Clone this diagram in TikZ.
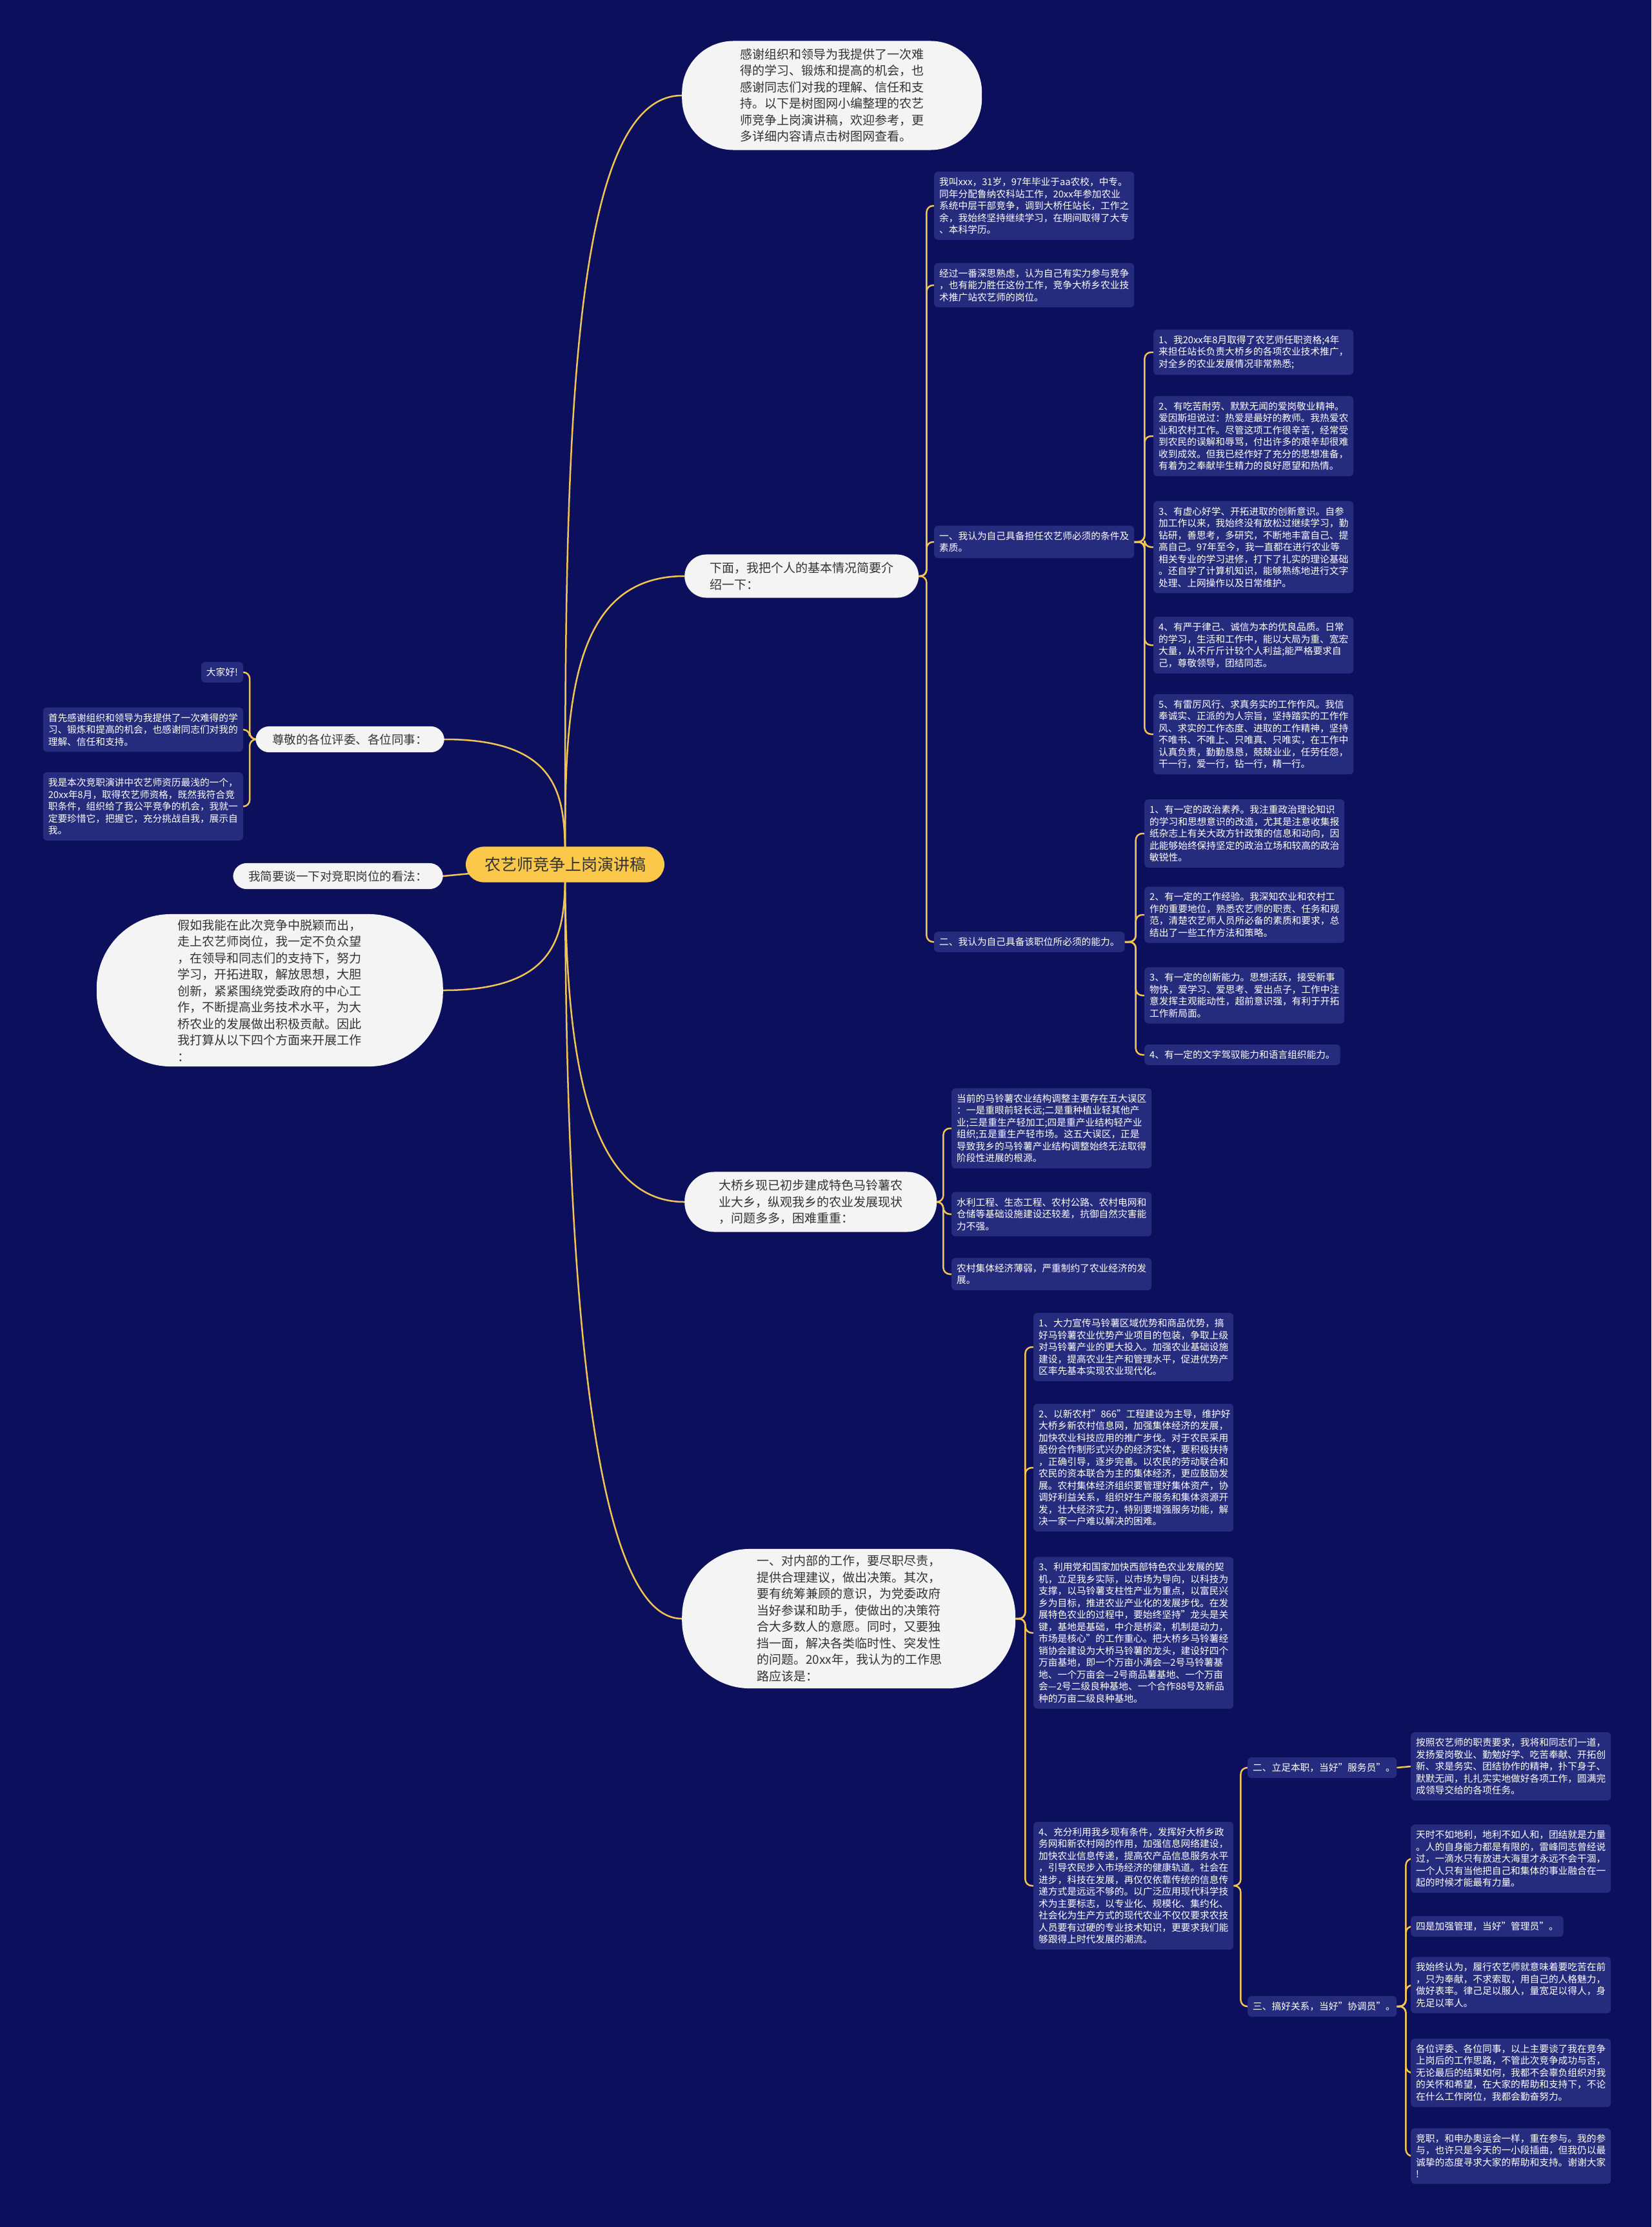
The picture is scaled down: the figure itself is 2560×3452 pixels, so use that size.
\documentclass[tikz,border=0pt]{standalone}
\usepackage{fontspec}
\setmainfont{Noto Sans CJK SC}
\usetikzlibrary{backgrounds}
\definecolor{bgc}{HTML}{0B0F5C}
\definecolor{boxc}{HTML}{262C7D}
\definecolor{pillc}{HTML}{F4F4F4}
\definecolor{pilltext}{HTML}{333333}
\definecolor{rootc}{HTML}{FCC84A}
\definecolor{linec}{HTML}{F2C553}
\newcommand\sbfont{\fontsize{14.7}{18.5}\selectfont}
\newcommand\plfont{\fontsize{19}{25.5}\selectfont}
\tikzset{
  box/.style={fill=boxc, rounded corners=6pt, text=white, align=left, text width=294pt, inner xsep=8pt, inner ysep=9pt, font=\sbfont},
  sbox/.style={fill=boxc, rounded corners=6pt, text=white, inner xsep=8pt, inner ysep=9pt, font=\sbfont},
  pill/.style={fill=pillc, text=pilltext, align=left, text width=285pt, font=\plfont, inner ysep=12pt},
  spill/.style={fill=pillc, text=pilltext, font=\fontsize{18.5}{22}\selectfont, inner ysep=11.5pt, rounded corners=21pt},
  rootbox/.style={fill=rootc, text=pilltext, rounded corners=28pt, font=\fontsize{25}{30}\selectfont, inner xsep=29pt, inner ysep=16pt},
  conn/.style={draw=linec, line width=2.5pt, rounded corners=10pt},
  rconn/.style={draw=linec, line width=2.5pt},
}
\begin{document}
\begin{tikzpicture}[x=1pt,y=-1pt]
\useasboundingbox (0,0) rectangle (2560,3452);

% root
\node[rootbox] (r) at (876,1340) {农艺师竞争上岗演讲稿};

% first level, right
\node[pill, inner xsep=90pt, rounded corners=80pt, anchor=west] (t1) at (1057,148) {感谢组织和领导为我提供了一次难\\得的学习、锻炼和提高的机会，也\\感谢同志们对我的理解、信任和支\\持。以下是树图网小编整理的农艺\\师竞争上岗演讲稿，欢迎参考，更\\多详细内容请点击树图网查看。};
\node[pill, inner xsep=39pt, rounded corners=34pt, anchor=west] (t2) at (1061,893) {下面，我把个人的基本情况简要介\\绍一下：};
\node[pill, inner xsep=53pt, rounded corners=46pt, anchor=west] (t3) at (1061,1863) {大桥乡现已初步建成特色马铃薯农\\业大乡，纵观我乡的农业发展现状\\，问题多多，困难重重：};
\node[pill, inner xsep=116pt, inner ysep=10pt, rounded corners=105pt, anchor=west] (t4) at (1057,2509) {一、对内部的工作，要尽职尽责，\\提供合理建议，做出决策。其次，\\要有统筹兼顾的意识，为党委政府\\当好参谋和助手，使做出的决策符\\合大多数人的意愿。同时，又要独\\挡一面，解决各类临时性、突发性\\的问题。20xx年，我认为的工作思\\路应该是：};

% first level, left
\node[spill, inner xsep=26pt, anchor=east] (l1) at (689,1146) {尊敬的各位评委、各位同事：};
\node[spill, inner xsep=24pt, anchor=east] (l2) at (687,1358) {我简要谈一下对竞职岗位的看法：};
\node[pill, inner xsep=126pt, inner ysep=8pt, rounded corners=115pt, anchor=east] (l3) at (687,1535) {假如我能在此次竞争中脱颖而出，\\走上农艺师岗位，我一定不负众望\\，在领导和同志们的支持下，努力\\学习，开拓进取，解放思想，大胆\\创新，紧紧围绕党委政府的中心工\\作，不断提高业务技术水平，为大\\桥农业的发展做出积极贡献。因此\\我打算从以下四个方面来开展工作\\：};

% children of l1
\node[sbox, anchor=east] (k1) at (377,1042) {大家好!};
\node[box, anchor=east] (k2) at (377,1131) {首先感谢组织和领导为我提供了一次难得的学\\习、锻炼和提高的机会，也感谢同志们对我的\\理解、信任和支持。};
\node[box, anchor=east] (k3) at (377,1250) {我是本次竞职演讲中农艺师资历最浅的一个，\\20xx年8月，取得农艺师资格，既然我符合竞\\职条件，组织给了我公平竞争的机会，我就一\\定要珍惜它，把握它，充分挑战自我，展示自\\我。};

% children of t2
\node[box, anchor=west] (a1) at (1448,319) {我叫xxx，31岁，97年毕业于aa农校，中专。\\同年分配鲁纳农科站工作，20xx年参加农业\\系统中层干部竞争，调到大桥任站长，工作之\\余，我始终坚持继续学习，在期间取得了大专\\、本科学历。};
\node[box, anchor=west] (a2) at (1448,442) {经过一番深思熟虑，认为自己有实力参与竞争\\，也有能力胜任这份工作，竞争大桥乡农业技\\术推广站农艺师的岗位。};
\node[box, anchor=west] (e1) at (1448,840) {一、我认为自己具备担任农艺师必须的条件及\\素质。};
\node[sbox, anchor=west] (e2) at (1448,1460) {二、我认为自己具备该职位所必须的能力。};

% children of e1
\node[box, anchor=west] (c11) at (1788,546) {1、我20xx年8月取得了农艺师任职资格;4年\\来担任站长负责大桥乡的各项农业技术推广，\\对全乡的农业发展情况非常熟悉;};
\node[box, anchor=west] (c12) at (1788,676) {2、有吃苦耐劳、默默无闻的爱岗敬业精神。\\爱因斯坦说过：热爱是最好的教师。我热爱农\\业和农村工作。尽管这项工作很辛苦，经常受\\到农民的误解和辱骂，付出许多的艰辛却很难\\收到成效。但我已经作好了充分的思想准备，\\有着为之奉献毕生精力的良好愿望和热情。};
\node[box, anchor=west] (c13) at (1788,848) {3、有虚心好学、开拓进取的创新意识。自参\\加工作以来，我始终没有放松过继续学习，勤\\钻研，善思考，多研究，不断地丰富自己、提\\高自己。97年至今，我一直都在进行农业等\\相关专业的学习进修，打下了扎实的理论基础\\。还自学了计算机知识，能够熟练地进行文字\\处理、上网操作以及日常维护。};
\node[box, anchor=west] (c14) at (1788,1000) {4、有严于律己、诚信为本的优良品质。日常\\的学习，生活和工作中，能以大局为重、宽宏\\大量，从不斤斤计较个人利益;能严格要求自\\己，尊敬领导，团结同志。};
\node[box, anchor=west] (c15) at (1788,1138) {5、有雷厉风行、求真务实的工作作风。我信\\奉诚实、正派的为人宗旨，坚持踏实的工作作\\风、求实的工作态度、进取的工作精神，坚持\\不唯书、不唯上、只唯真、只唯实，在工作中\\认真负责，勤勤恳恳，兢兢业业，任劳任怨，\\干一行，爱一行，钻一行，精一行。};

% children of e2
\node[box, anchor=west] (c21) at (1774,1292) {1、有一定的政治素养。我注重政治理论知识\\的学习和思想意识的改造，尤其是注意收集报\\纸杂志上有关大政方针政策的信息和动向，因\\此能够始终保持坚定的政治立场和较高的政治\\敏锐性。};
\node[box, anchor=west] (c22) at (1774,1418) {2、有一定的工作经验。我深知农业和农村工\\作的重要地位，熟悉农艺师的职责、任务和规\\范，清楚农艺师人员所必备的素质和要求，总\\结出了一些工作方法和策略。};
\node[box, anchor=west] (c23) at (1774,1543) {3、有一定的创新能力。思想活跃，接受新事\\物快，爱学习、爱思考、爱出点子，工作中注\\意发挥主观能动性，超前意识强，有利于开拓\\工作新局面。};
\node[sbox, anchor=west] (c24) at (1774,1635) {4、有一定的文字驾驭能力和语言组织能力。};

% children of t3
\node[box, anchor=west] (d1) at (1475,1749) {当前的马铃薯农业结构调整主要存在五大误区\\：一是重眼前轻长远;二是重种植业轻其他产\\业;三是重生产轻加工;四是重产业结构轻产业\\组织;五是重生产轻市场。这五大误区，正是\\导致我乡的马铃薯产业结构调整始终无法取得\\阶段性进展的根源。};
\node[box, anchor=west] (d2) at (1475,1882) {水利工程、生态工程、农村公路、农村电网和\\仓储等基础设施建设还较差，抗御自然灾害能\\力不强。};
\node[box, anchor=west] (d3) at (1475,1975) {农村集体经济薄弱，严重制约了农业经济的发\\展。};

% children of t4
\node[box, anchor=west] (f1) at (1602,2088) {1、大力宣传马铃薯区域优势和商品优势，搞\\好马铃薯农业优势产业项目的包装，争取上级\\对马铃薯产业的更大投入。加强农业基础设施\\建设，提高农业生产和管理水平，促进优势产\\区率先基本实现农业现代化。};
\node[box, anchor=west] (f2) at (1602,2275) {2、以新农村"866"工程建设为主导，维护好\\大桥乡新农村信息网，加强集体经济的发展，\\加快农业科技应用的推广步伐。对于农民采用\\股份合作制形式兴办的经济实体，要积极扶持\\，正确引导，逐步完善。以农民的劳动联合和\\农民的资本联合为主的集体经济，更应鼓励发\\展。农村集体经济组织要管理好集体资产，协\\调好利益关系，组织好生产服务和集体资源开\\发，壮大经济实力，特别要增强服务功能，解\\决一家一户难以解决的困难。};
\node[box, anchor=west] (f3) at (1602,2531) {3、利用党和国家加快西部特色农业发展的契\\机，立足我乡实际，以市场为导向，以科技为\\支撑，以马铃薯支柱性产业为重点，以富民兴\\乡为目标，推进农业产业化的发展步伐。在发\\展特色农业的过程中，要始终坚持"龙头是关\\键，基地是基础，中介是桥梁，机制是动力，\\市场是核心"的工作重心。把大桥乡马铃薯经\\销协会建设为大桥马铃薯的龙头，建设好四个\\万亩基地，即一个万亩小满会—2号马铃薯基\\地、一个万亩会—2号商品薯基地、一个万亩\\会—2号二级良种基地、一个合作88号及新品\\种的万亩二级良种基地。};
\node[box, anchor=west] (f4) at (1602,2923) {4、充分利用我乡现有条件，发挥好大桥乡政\\务网和新农村网的作用，加强信息网络建设，\\加快农业信息传递，提高农产品信息服务水平\\，引导农民步入市场经济的健康轨道。社会在\\进步，科技在发展，再仅仅依靠传统的信息传\\递方式是远远不够的。以广泛应用现代科学技\\术为主要标志，以专业化、规模化、集约化、\\社会化为生产方式的现代农业不仅仅要求农技\\人员要有过硬的专业技术知识，更要求我们能\\够跟得上时代发展的潮流。};

% children of f4
\node[box, text width=215pt, anchor=west] (s2) at (1934,2740) {二、立足本职，当好"服务员"。};
\node[box, text width=215pt, anchor=west] (s3) at (1934,3110) {三、搞好关系，当好"协调员"。};

% child of s2
\node[box, anchor=west] (g1) at (2187,2738) {按照农艺师的职责要求，我将和同志们一道，\\发扬爱岗敬业、勤勉好学、吃苦奉献、开拓创\\新、求是务实、团结协作的精神，扑下身子、\\默默无闻，扎扎实实地做好各项工作，圆满完\\成领导交给的各项任务。};

% children of s3
\node[box, anchor=west] (h1) at (2187,2881) {天时不如地利，地利不如人和，团结就是力量\\。人的自身能力都是有限的，雷峰同志曾经说\\过，一滴水只有放进大海里才永远不会干涸，\\一个人只有当他把自己和集体的事业融合在一\\起的时候才能最有力量。};
\node[sbox, anchor=west] (h2) at (2187,2986) {四是加强管理，当好"管理员"。};
\node[box, anchor=west] (h3) at (2187,3077) {我始终认为，履行农艺师就意味着要吃苦在前\\，只为奉献，不求索取，用自己的人格魅力，\\做好表率。律己足以服人，量宽足以得人，身\\先足以率人。};
\node[box, anchor=west] (h4) at (2187,3213) {各位评委、各位同事，以上主要谈了我在竞争\\上岗后的工作思路，不管此次竞争成功与否，\\无论最后的结果如何，我都不会辜负组织对我\\的关怀和希望，在大家的帮助和支持下，不论\\在什么工作岗位，我都会勤奋努力。};
\node[box, anchor=west] (h5) at (2187,3342) {竞职，和申办奥运会一样，重在参与。我的参\\与，也许只是今天的一小段插曲，但我仍以最\\诚挚的态度寻求大家的帮助和支持。谢谢大家\\!};

\begin{pgfonlayer}{background}
\fill[bgc] (0,0) rectangle (2560,3452);
% root connectors
\draw[rconn] (r.center) .. controls (876,744) and (876,148) .. (t1.west);
\draw[rconn] (r.center) .. controls (876,1116) and (876,893) .. (t2.west);
\draw[rconn] (r.center) .. controls (876,1243) and (876,1146) .. (l1.east);
\draw[rconn] (r.center) -- (l2.east);
\draw[rconn] (r.center) .. controls (876,1437) and (876,1535) .. (l3.east);
\draw[rconn] (r.center) .. controls (876,1601) and (900,1863) .. (t3.west);
\draw[rconn] (r.center) .. controls (876,1924) and (910,2509) .. (t4.west);
% l1
\foreach \c in {k1,k2,k3} \draw[conn] (l1.west) -- ++(-9,0) |- (\c.east);
% t2
\foreach \c in {a1,a2,e1,e2} \draw[conn] (t2.east) -- ++(12,0) |- (\c.west);
% e1
\foreach \c in {c11,c12,c13,c14,c15} \draw[conn] (e1.east) -- ++(16,0) |- (\c.west);
% e2
\foreach \c in {c21,c22,c23,c24} \draw[conn] (e2.east) -- ++(17,0) |- (\c.west);
% t3
\foreach \c in {d1,d2,d3} \draw[conn] (t3.east) -- ++(10,0) |- (\c.west);
% t4
\foreach \c in {f1,f2,f3,f4} \draw[conn] (t4.east) -- ++(15,0) |- (\c.west);
% f4
\foreach \c in {s2,s3} \draw[conn] (f4.east) -- ++(11,0) |- (\c.west);
% s2
\draw[conn] (s2.east) -- (g1.west);
% s3
\foreach \c in {h1,h2,h3,h4,h5} \draw[conn] (s3.east) -- ++(14,0) |- (\c.west);
\end{pgfonlayer}
\end{tikzpicture}
\end{document}
